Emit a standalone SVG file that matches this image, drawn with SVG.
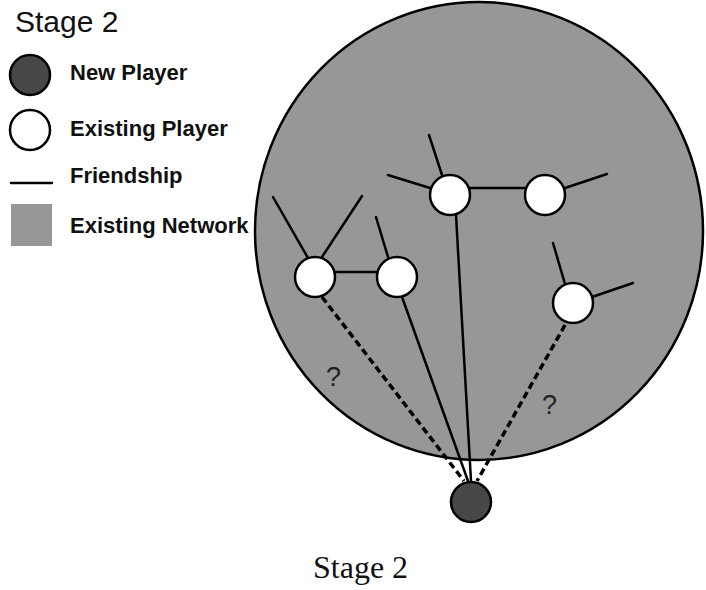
<svg xmlns="http://www.w3.org/2000/svg" width="706" height="590" viewBox="0 0 706 590">
  <style>
    .lbl { font-family: "Liberation Sans", Arial, sans-serif; font-size: 22px; font-weight: bold; fill: #111; }
    .title { font-family: "Liberation Sans", Arial, sans-serif; font-size: 30px; fill: #111; }
    .caption { font-family: "Liberation Serif", "Times New Roman", serif; font-size: 32px; fill: #111; }
    .q { font-family: "Liberation Sans", Arial, sans-serif; font-size: 27px; fill: #222; }
    .edge { stroke: #000; stroke-width: 2.5; fill: none; stroke-linecap: round; }
    .dash { stroke: #000; stroke-width: 3.5; fill: none; stroke-dasharray: 7 4; }
    .existing { fill: #fff; stroke: #000; stroke-width: 2.5; }
    .newp { fill: #474747; stroke: #000; stroke-width: 2.5; }
    .network { fill: #979797; stroke: #000; stroke-width: 2.5; }
  </style>

  <!-- legend -->
  <g id="legend">
    <text class="title" x="15" y="32">Stage 2</text>
    <circle class="newp" cx="30" cy="75" r="20"/>
    <text class="lbl" x="70" y="80">New Player</text>
    <circle class="existing" cx="30" cy="130" r="20"/>
    <text class="lbl" x="70" y="136">Existing Player</text>
    <line class="edge" x1="11" y1="183" x2="52" y2="183" stroke-linecap="butt"/>
    <text class="lbl" x="70" y="183">Friendship</text>
    <rect x="11" y="204" width="41" height="42" fill="#979797"/>
    <text class="lbl" x="70" y="233">Existing Network</text>
  </g>

  <!-- existing network region -->
  <g id="network">
    <ellipse class="network" cx="479" cy="231" rx="224" ry="229"/>
  </g>

  <!-- friendships and prospective links -->
  <g id="connectors">
    <line class="edge" x1="335" y1="272" x2="377" y2="272"/>
    <line class="edge" x1="470" y1="188" x2="525" y2="188"/>
    <line class="edge" x1="308" y1="258" x2="273" y2="197"/>
    <line class="edge" x1="322" y1="257" x2="362" y2="196"/>
    <line class="edge" x1="388" y1="257" x2="376" y2="217"/>
    <line class="edge" x1="430" y1="188" x2="388" y2="175"/>
    <line class="edge" x1="442" y1="175" x2="429" y2="135"/>
    <line class="edge" x1="565" y1="188" x2="607" y2="174"/>
    <line class="edge" x1="565" y1="284" x2="553" y2="243"/>
    <line class="edge" x1="592" y1="297" x2="633" y2="283"/>
    <line class="edge" x1="402" y1="297" x2="468" y2="481"/>
    <line class="edge" x1="456" y1="215" x2="471" y2="481"/>
    <line class="dash" x1="322" y1="297" x2="464" y2="481"/>
    <line class="dash" x1="565" y1="325" x2="477" y2="481"/>
  </g>

  <text class="q" x="326" y="386">?</text>
  <text class="q" x="542" y="414">?</text>

  <!-- players -->
  <g id="player-a"><circle class="existing" cx="315" cy="277" r="20"/></g>
  <g id="player-b"><circle class="existing" cx="397" cy="277" r="20"/></g>
  <g id="player-c"><circle class="existing" cx="450" cy="195" r="20"/></g>
  <g id="player-d"><circle class="existing" cx="545" cy="195" r="20"/></g>
  <g id="player-e"><circle class="existing" cx="573" cy="303" r="20"/></g>
  <g id="player-new"><circle class="newp" cx="471" cy="502" r="20"/></g>

  <text class="caption" x="313" y="578">Stage 2</text>
</svg>
